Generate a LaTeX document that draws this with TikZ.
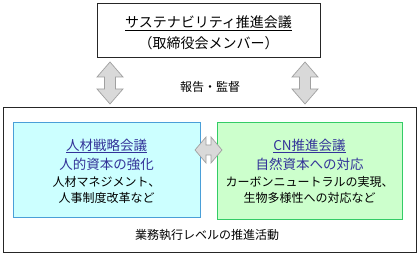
\documentclass[tikz,border=0pt]{standalone}
\usepackage{fontspec}
\setmainfont{Noto Sans CJK JP}
\definecolor{lbfill}{HTML}{CCFFFF}
\definecolor{lbdraw}{HTML}{4A9FD8}
\definecolor{rbfill}{HTML}{CCFFCC}
\definecolor{rbdraw}{HTML}{33CC66}
\definecolor{navytxt}{HTML}{333399}
\definecolor{arfill}{HTML}{D9D9D9}
\definecolor{ardraw}{HTML}{A0A0A0}
\begin{document}
\begin{tikzpicture}[x=1pt,y=-1pt,
  outerbox/.style={draw=black!85,line width=0.8pt},
  leftbox/.style={draw=lbdraw,fill=lbfill,line width=1pt},
  rightbox/.style={draw=rbdraw,fill=rbfill,line width=1pt},
  blockarrow/.style={draw=ardraw,fill=arfill,line width=0.7pt,line join=miter},
  ttl/.style={font=\fontsize{13.5}{15}\selectfont,text=navytxt,inner sep=0pt},
  body/.style={font=\fontsize{12}{14}\selectfont,text=black,inner sep=0pt},
  toptxt/.style={font=\fontsize{14}{16}\selectfont,text=black,inner sep=0pt}]
\useasboundingbox (0,0) rectangle (420,256);
\fill[white] (0,0) rectangle (420,256);
% top box
\draw[outerbox] (97,3) rectangle (320,57);
\node[toptxt] (t1) at (208.5,23) {\underline{サステナビリティ推進会議}};
\node[toptxt] (t2) at (208.5,43) {（取締役会メンバー）};
% vertical arrows
\foreach \cx in {110,305}{
  \draw[blockarrow] (\cx,62) -- (\cx+13,77) -- (\cx+5.5,77) -- (\cx+5.5,89) -- (\cx+13,89)
    -- (\cx,104) -- (\cx-13,89) -- (\cx-5.5,89) -- (\cx-5.5,77) -- (\cx-13,77) -- cycle;
}
\node[body] (rep) at (210,87) {報告・監督};
% big box
\draw[outerbox] (3,107) rectangle (416,252);
% left box
\draw[leftbox] (13,123) rectangle (200,218);
\node[ttl] (l1) at (106.5,146) {\underline{人材戦略会議}};
\node[ttl] (l2) at (106.5,164) {人的資本の強化};
\node[body] (l3) at (106.5,182) {人材マネジメント、};
\node[body] (l4) at (106.5,198) {人事制度改革など};
% right box
\draw[rightbox] (217,123) rectangle (402,220);
\node[ttl] (r1) at (309.5,146) {\underline{CN推進会議}};
\node[ttl] (r2) at (309.5,164) {自然資本への対応};
\node[body] (r3) at (309.5,182) {カーボンニュートラルの実現、};
\node[body] (r4) at (309.5,198) {生物多様性への対応など};
% horizontal arrow
\draw[blockarrow] (195,150) -- (206,137) -- (206,145) -- (211,145) -- (211,137) -- (222,150)
  -- (211,163) -- (211,155) -- (206,155) -- (206,163) -- cycle;
\node[body] (bot) at (207,235) {業務執行レベルの推進活動};
\end{tikzpicture}
\end{document}
